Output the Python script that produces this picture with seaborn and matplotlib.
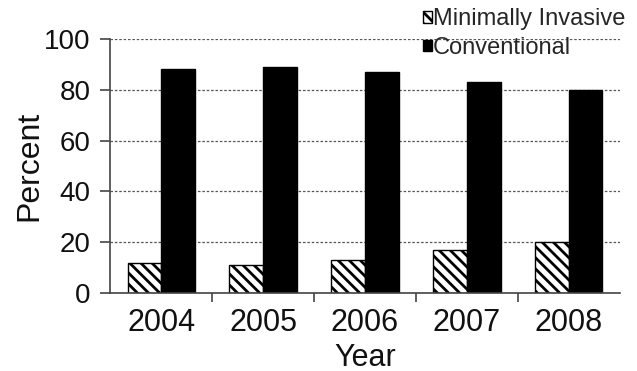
import matplotlib
matplotlib.use("Agg")
import matplotlib.pyplot as plt
import seaborn as sns
import pandas as pd
from matplotlib.patches import Patch

years = ["2004", "2005", "2006", "2007", "2008"]
minimally_invasive = [12, 11, 13, 17, 20]
conventional = [88, 89, 87, 83, 80]
groups = ["Minimally Invasive", "Conventional"]

df = pd.DataFrame({
    "Year": years * 2,
    "Percent": minimally_invasive + conventional,
    "Group": [groups[0]] * len(years) + [groups[1]] * len(years),
})

sns.set_theme(style="white")
plt.rcParams["font.family"] = ["Liberation Sans", "DejaVu Sans"]
plt.rcParams["hatch.linewidth"] = 2.0

fig = plt.figure(figsize=(6.37, 3.71), dpi=100)
ax = fig.add_axes([0.173, 0.21, 0.80, 0.685])

sns.barplot(data=df, x="Year", y="Percent", hue="Group", hue_order=groups,
            palette=["white", "black"], edgecolor="black", linewidth=1,
            width=0.66, ax=ax, legend=False)

# hatch the minimally invasive bars
for bar in ax.containers[0]:
    bar.set_hatch("\\\\\\")

ax.set_ylim(0, 100)
ax.set_xlim(-0.5, len(years) - 0.5)
ax.set_yticks([0, 20, 40, 60, 80, 100])
ax.yaxis.grid(True, linestyle=(0, (2, 1.5)), color="#555555", linewidth=0.9)
ax.set_axisbelow(True)

for s in ["top", "right"]:
    ax.spines[s].set_visible(False)
for s in ["left", "bottom"]:
    ax.spines[s].set_color("#444444")
    ax.spines[s].set_linewidth(1.2)

ax.tick_params(axis="y", which="major", left=True, length=7, width=1.2,
               color="#444444", labelsize=20, pad=7, labelcolor="#111111")
ax.tick_params(axis="x", which="major", length=0, labelsize=22, pad=11,
               labelcolor="#111111")
ax.set_xticks([i + 0.5 for i in range(len(years) - 1)], minor=True)
ax.tick_params(axis="x", which="minor", bottom=True, length=6.5, width=1.2,
               color="#444444")

ax.set_xlabel("Year", fontsize=22, labelpad=3, color="#111111")
ax.set_ylabel("Percent", fontsize=23, labelpad=0, color="#111111")

handles = [Patch(facecolor="white", edgecolor="black", hatch="\\\\\\"),
           Patch(facecolor="black", edgecolor="black")]
fig.legend(handles, groups, loc="upper left", bbox_to_anchor=(0.664, 0.978),
           frameon=False, fontsize=17, handlelength=0.38, handleheight=0.38,
           handletextpad=0.05, labelspacing=0.28, borderpad=0, borderaxespad=0)

fig.savefig("out.png", dpi=100)
